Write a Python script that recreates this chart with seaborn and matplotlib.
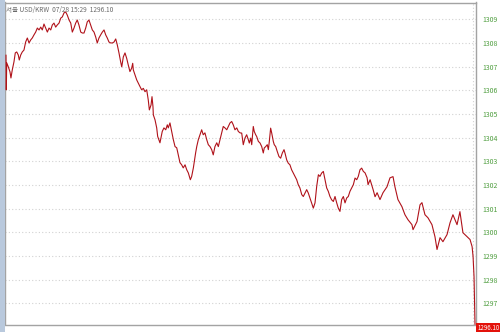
import matplotlib
matplotlib.use("Agg")
import matplotlib.pyplot as plt
import matplotlib.transforms as mtransforms
from matplotlib.patches import Rectangle
import seaborn as sns
import pandas as pd

# ---- data ----
minutes = [0, 0.25, 0.6, 1.9, 3.3, 4.1, 5.2, 6.6, 7.7, 8.9, 10.2, 11.0, 12.2, 13.5, 14.9,
           16.3, 17.7, 19.1, 20.5, 21.8, 23.2, 24.6, 26.0, 27.4, 28.8, 30.1, 31.5, 32.9,
           34.3, 35.7, 37.1, 38.4, 39.8, 41.2, 42.5, 44.0, 45.4, 46.7, 48.1, 49.5, 50.8,
           52.3, 53.7, 55.0, 56.4, 57.8, 59.1, 60.5, 62.0, 63.3, 64.7, 66.1, 67.4, 68.8,
           70.2, 71.6, 73.0, 74.4, 75.7, 77.1, 78.5, 79.9, 81.3, 82.7, 84.0, 85.4, 86.8,
           88.2, 89.6, 91.0, 92.3, 93.7, 95.1, 96.0, 97.3, 98.7,
           100.1, 101.4, 102.8, 104.2, 105.1, 105.6, 107.0, 108.4, 109.7, 111.1, 112.5,
           113.9, 115.3, 116.7, 118.0, 118.9, 120.3, 121.1, 121.9, 122.2, 123.6, 125.0,
           125.8, 127.7, 128.8, 129.6, 131.0, 132.5, 133.8, 134.6, 136.0, 137.4, 138.8,
           140.2, 141.6, 142.9, 144.3, 145.7, 147.0, 148.5, 149.9, 151.2, 152.9, 154.0,
           155.4, 156.2, 157.3, 158.2, 159.5, 160.9, 162.3, 163.6, 165.0, 166.5, 167.8,
           169.2, 170.6, 171.9, 173.3, 174.8, 176.1, 177.5, 178.9, 180.2, 181.6, 183.1,
           184.4, 185.8, 187.2, 188.5, 189.9, 191.4, 192.7, 194.1,
           195.5, 196.8, 198.2, 199.6, 201.0, 201.8, 203.0, 203.8, 205.1, 205.9, 207.1,
           207.9, 209.3, 210.7, 212.1, 213.4, 214.2, 215.4, 216.7, 217.6, 218.4, 219.5,
           220.4, 221.7, 222.5, 223.7, 225.0, 226.4, 227.8, 229.2, 230.6, 231.4, 232.8,
           234.1, 235.5, 236.9, 238.3, 239.7, 241.1, 242.4, 243.8, 245.3, 246.6, 248.0,
           249.4, 250.7, 252.1, 253.5, 254.9, 256.3, 257.7, 259.1, 260.4, 261.8, 263.2,
           264.6, 266.0, 267.3, 268.7, 270.1, 271.5, 272.9, 274.3, 275.6, 277.0, 278.4,
           279.8, 281.2, 282.6, 283.9, 285.3, 286.7, 288.1, 289.5, 290.9, 292.2, 293.6,
           295.0, 296.4, 297.8, 299.5, 300.3, 302.0, 304.5, 306.1, 307.8, 310.2, 312.7,
           316.0, 318.5, 321.0, 322.6, 325.1, 328.4, 330.9, 333.4, 336.7, 337.6, 340.9,
           343.4, 345.0, 347.5, 350.0, 353.3, 355.8, 357.5, 360.0, 362.4, 365.8, 368.3,
           370.7, 374.1, 376.5, 379.0, 382.4, 384.9, 386.6, 387.4, 388.2, 389.0]

prices = [1307.49, 1306.02, 1307.16, 1306.99, 1306.78, 1306.52, 1306.86, 1307.20, 1307.58,
          1307.62, 1307.49, 1307.28, 1307.49, 1307.62, 1307.70, 1308.04, 1308.21, 1308.00,
          1308.13, 1308.21, 1308.34, 1308.46, 1308.63, 1308.55, 1308.67, 1308.55, 1308.80,
          1308.63, 1308.46, 1308.63, 1308.55, 1308.76, 1308.84, 1308.67, 1308.76, 1308.84,
          1309.05, 1309.10, 1309.27, 1309.31, 1309.18, 1308.97, 1308.84, 1308.46, 1308.63,
          1308.84, 1308.97, 1308.76, 1308.46, 1308.42, 1308.42, 1308.63, 1308.89, 1308.97,
          1308.76, 1308.55, 1308.46, 1308.25, 1308.00, 1308.21, 1308.34, 1308.46, 1308.55,
          1308.34, 1308.21, 1308.04, 1308.00, 1308.00, 1308.04, 1308.17, 1307.92, 1307.58,
          1307.20, 1306.99, 1307.41, 1307.58,
          1307.35, 1307.07, 1306.79, 1306.93, 1307.14, 1306.86, 1306.65, 1306.44, 1306.30,
          1306.16, 1306.02, 1306.08, 1305.94, 1306.02, 1305.59, 1305.17, 1305.38, 1305.73,
          1305.31, 1304.96, 1304.75, 1304.41, 1304.05, 1303.78, 1304.05, 1304.26, 1304.41,
          1304.33, 1304.54, 1304.41, 1304.62, 1304.26, 1303.91, 1303.62, 1303.57, 1303.27,
          1302.94, 1302.85, 1302.72, 1302.85, 1302.64, 1302.51, 1302.22, 1302.36, 1302.72,
          1302.99, 1303.36, 1303.62, 1303.91, 1304.12, 1304.33, 1304.12, 1304.20, 1303.91,
          1303.70, 1303.62, 1303.49, 1303.27, 1303.62, 1303.78, 1303.62, 1303.91, 1304.20,
          1304.47, 1304.41, 1304.33, 1304.47, 1304.62, 1304.68, 1304.54, 1304.33, 1304.41,
          1304.26, 1304.20,
          1304.19, 1303.70, 1303.98, 1304.12, 1303.91, 1303.77, 1303.98, 1303.70, 1304.47,
          1304.26, 1304.12, 1304.05, 1303.84, 1303.77, 1303.62, 1303.35, 1303.56, 1303.62,
          1303.70, 1303.49, 1303.84, 1304.40, 1304.19, 1303.84, 1303.70, 1303.62, 1303.41,
          1303.20, 1303.13, 1303.35, 1303.49, 1303.35, 1303.06, 1302.92, 1302.85, 1302.64,
          1302.50, 1302.36, 1302.22, 1302.01, 1301.87, 1301.59, 1301.51, 1301.66, 1301.80,
          1301.66, 1301.45, 1301.24, 1301.02, 1301.24, 1301.94, 1302.43, 1302.36, 1302.50,
          1302.57, 1302.22, 1301.87, 1301.73, 1301.51, 1301.37, 1301.30, 1301.51, 1301.24,
          1301.02, 1300.88, 1301.38, 1301.51, 1301.24, 1301.45, 1301.51, 1301.73, 1301.87,
          1302.01, 1302.29, 1302.22, 1302.36, 1302.64, 1302.71, 1302.57, 1302.51, 1302.30,
          1302.01, 1302.22, 1301.80, 1301.50, 1301.67, 1301.38, 1301.67, 1301.92, 1302.30,
          1302.35, 1301.92, 1301.38, 1301.08, 1300.74, 1300.53, 1300.32, 1300.11, 1300.45,
          1301.16, 1301.25, 1300.74, 1300.61, 1300.32, 1299.81, 1299.27, 1299.77, 1299.60,
          1299.90, 1300.40, 1300.74, 1300.32, 1300.87, 1299.98, 1299.81, 1299.69, 1299.39,
          1298.97, 1298.12, 1296.10]

y_ticks = [1297, 1298, 1299, 1300, 1301, 1302, 1303, 1304, 1305, 1306, 1307, 1308, 1309]
y_tick_labels = [str(t) for t in y_ticks]
title_text = "서울 USD/KRW  07/28 15:29  1296.10"
last_label = "1296.10"
last_price = 1296.10

df = pd.DataFrame({"minute": minutes, "price": prices})

# ---- style ----
sns.set_style("white")
plt.rcParams["font.family"] = ["Noto Sans CJK KR", "DejaVu Sans"]

fig = plt.figure(figsize=(5.0, 3.32), dpi=100, facecolor="white")
# light blue strip on the left edge of the window
fig.patches.append(Rectangle((0, 0), 5 / 500, 1, transform=fig.transFigure,
                             facecolor="#b9c9dd", edgecolor="none", zorder=0))
ax = fig.add_axes([5 / 500, 7.5 / 332, 471 / 500, 322 / 332])
ax.set_facecolor("white")

sns.lineplot(data=df, x="minute", y="price", ax=ax, color="#b0121a",
             linewidth=0.8, estimator=None, sort=False, zorder=3)

ax.set_xlim(-0.83, 389.83)
ax.set_ylim(1296.1, 1309.71)

ax.set_yticks(y_ticks)
ax.set_yticklabels(y_tick_labels)
ax.yaxis.tick_right()
ax.tick_params(axis="y", which="both", length=0, pad=4.5, labelsize=5.0,
               labelcolor="#4f9e3f", left=False, right=False,
               labelleft=False, labelright=True)
ax.set_xticks([])
ax.set_xlabel("")
ax.set_ylabel("")

ax.grid(axis="y", color="#d2d2d2", linestyle=(0, (1, 2)), linewidth=0.8)
ax.axvline(387.3, color="#d2d2d2", linestyle=(0, (1, 2)), linewidth=0.8, zorder=1)

for side in ["left", "right", "top", "bottom"]:
    ax.spines[side].set_visible(True)
    ax.spines[side].set_color("#a3a3a3")
    ax.spines[side].set_linewidth(1.0)

ax.text(0.002, 0.988, title_text, transform=ax.transAxes, ha="left", va="top",
        fontsize=4.7, color="#6a6a6a",
        family=["Noto Sans CJK KR", "DejaVu Sans"])

trans = mtransforms.blended_transform_factory(ax.transAxes, ax.transData)
ax.text(1.003, last_price, last_label, transform=trans, ha="left", va="top",
        fontsize=4.4, color="white", clip_on=False,
        bbox=dict(boxstyle="square,pad=0.2", facecolor="#e3120b", edgecolor="none"))

fig.savefig("out.png", dpi=100, facecolor="white")
